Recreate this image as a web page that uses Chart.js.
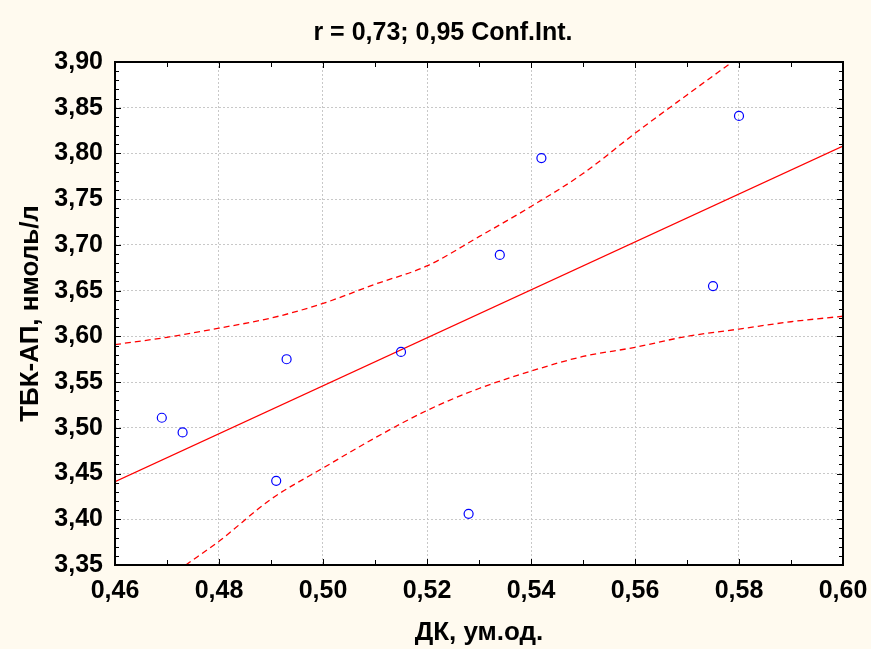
<!DOCTYPE html>
<html>
<head>
<meta charset="utf-8">
<script src="https://cdn.jsdelivr.net/npm/chart.js@4.4.0/dist/chart.umd.min.js"></script>
<style>
  html, body { margin: 0; padding: 0; background: #fffaef; }
  #wrap { width: 871px; height: 649px; }
</style>
</head>
<body>
<div id="wrap"><canvas id="c" width="871" height="649"></canvas></div>
<script>
/* scatter with regression line and 0.95 confidence band */

const pointsX = [0.469, 0.473, 0.491, 0.493, 0.515, 0.528, 0.534, 0.542, 0.575, 0.580];
const pointsY = [3.511, 3.495, 3.442, 3.575, 3.583, 3.406, 3.689, 3.795, 3.655, 3.841];

const fitX = [0.46, 0.60];
const fitY = [3.441, 3.808];

const upperX = [0.46, 0.47, 0.48, 0.49, 0.50, 0.51, 0.52, 0.53, 0.54, 0.55, 0.56, 0.57, 0.5787];
const upperY = [3.591, 3.599, 3.609, 3.620, 3.636, 3.657, 3.677, 3.709, 3.742, 3.778, 3.822, 3.864, 3.90];

const lowerX = [0.4736, 0.48, 0.49, 0.50, 0.51, 0.52, 0.53, 0.54, 0.55, 0.56, 0.57, 0.58, 0.59, 0.60];
const lowerY = [3.35, 3.376, 3.422, 3.456, 3.489, 3.519, 3.543, 3.562, 3.578, 3.588, 3.600, 3.608, 3.616, 3.622];

const xTicks = [0.46, 0.48, 0.50, 0.52, 0.54, 0.56, 0.58, 0.60];
const yTicks = [3.35, 3.40, 3.45, 3.50, 3.55, 3.60, 3.65, 3.70, 3.75, 3.80, 3.85, 3.90];

const titleText = 'r = 0,73; 0,95 Conf.Int.';
const xTitle    = 'ДК, ум.од.';
const yTitle    = 'ТБК-АП, нмоль/л';

const FONT = '"Liberation Sans", Arial, sans-serif';
const zip  = (xs, ys) => xs.map((x, i) => ({ x, y: ys[i] }));
const fmt  = v => Number(v).toFixed(2).replace('.', ',');

// white plot area, inward ticks, black frame, title
const framePlugin = {
    id: 'frame',
    beforeDraw(chart) {
        const { ctx, chartArea: a } = chart;
        ctx.save();
        ctx.fillStyle = '#ffffff';
        ctx.fillRect(a.left, a.top, a.right - a.left, a.bottom - a.top);
        ctx.restore();
    },
    afterDatasetsDraw(chart) {
        const { ctx, chartArea: a, scales } = chart;
        const xs = scales.x, ys = scales.y;
        ctx.save();
        ctx.strokeStyle = '#000';
        ctx.lineWidth = 1;
        ctx.beginPath();
        for (let i = 0; i <= 14; i++) {
            const v  = 0.46 + i * 0.01;
            const px = Math.round(xs.getPixelForValue(v)) + 0.5;
            const len = i % 2 === 0 ? 6 : 5;
            ctx.moveTo(px, a.bottom); ctx.lineTo(px, a.bottom - len);
            ctx.moveTo(px, a.top);    ctx.lineTo(px, a.top + len);
        }
        for (let i = 0; i <= 55; i++) {
            const v  = 3.35 + i * 0.01;
            const py = Math.round(ys.getPixelForValue(v)) + 0.5;
            const len = i % 5 === 0 ? 6 : 4;
            ctx.moveTo(a.left, py);  ctx.lineTo(a.left + len, py);
            ctx.moveTo(a.right, py); ctx.lineTo(a.right - len, py);
        }
        ctx.stroke();
        ctx.lineWidth = 2;
        ctx.strokeRect(a.left, a.top, a.right - a.left, a.bottom - a.top);
        ctx.restore();
    },
    afterDraw(chart) {
        const { ctx } = chart;
        ctx.save();
        ctx.fillStyle = '#000';
        ctx.font = 'bold 25px ' + FONT;
        ctx.textAlign = 'center';
        ctx.textBaseline = 'middle';
        ctx.fillText(titleText, 443, 33);
        ctx.restore();
    }
};

new Chart(document.getElementById('c'), {
    type: 'scatter',
    data: {
        datasets: [
            {
                label: 'points',
                data: zip(pointsX, pointsY),
                showLine: false,
                pointStyle: 'circle',
                pointRadius: 4.5,
                pointBorderWidth: 1.2,
                pointBorderColor: '#0000ff',
                pointBackgroundColor: 'rgba(0,0,0,0)'
            },
            {
                label: 'fit',
                data: zip(fitX, fitY),
                showLine: true,
                borderColor: '#ff0000',
                borderWidth: 1.3,
                pointRadius: 0
            },
            {
                label: 'upper',
                data: zip(upperX, upperY),
                showLine: true,
                borderColor: '#ff0000',
                borderWidth: 1.3,
                borderDash: [6, 4],
                cubicInterpolationMode: 'monotone',
                pointRadius: 0
            },
            {
                label: 'lower',
                data: zip(lowerX, lowerY),
                showLine: true,
                borderColor: '#ff0000',
                borderWidth: 1.3,
                borderDash: [6, 4],
                cubicInterpolationMode: 'monotone',
                pointRadius: 0
            }
        ]
    },
    options: {
        responsive: false,
        animation: false,
        layout: { padding: { top: 62, right: 28, left: 0, bottom: 0 } },
        plugins: {
            legend:  { display: false },
            tooltip: { enabled: false },
            title:   { display: false }
        },
        scales: {
            x: {
                type: 'linear',
                min: 0.46,
                max: 0.60,
                afterBuildTicks: s => { s.ticks = xTicks.map(v => ({ value: v })); },
                afterFit: s => { s.height = 84; s.paddingLeft = 0; s.paddingRight = 0; },
                ticks: {
                    color: '#000',
                    padding: 11,
                    font: { family: FONT, size: 25, weight: 'bold' },
                    callback: v => fmt(v),
                    maxRotation: 0
                },
                grid:   { color: '#c8c8c8', lineWidth: 1, drawTicks: false },
                border: { display: false, dash: [2, 2] },
                title: {
                    display: true,
                    text: xTitle,
                    color: '#000',
                    font: { family: FONT, size: 26, weight: 'bold' },
                    padding: { top: 0, bottom: 1 }
                }
            },
            y: {
                type: 'linear',
                min: 3.35,
                max: 3.90,
                afterBuildTicks: s => { s.ticks = yTicks.map(v => ({ value: v })); },
                afterFit: s => { s.width = 115; s.paddingTop = 0; s.paddingBottom = 0; },
                ticks: {
                    color: '#000',
                    padding: 12,
                    font: { family: FONT, size: 25, weight: 'bold' },
                    callback: v => fmt(v)
                },
                grid:   { color: '#c8c8c8', lineWidth: 1, drawTicks: false },
                border: { display: false, dash: [2, 2] },
                title: {
                    display: true,
                    text: yTitle,
                    color: '#000',
                    font: { family: FONT, size: 26, weight: 'bold' },
                    padding: { top: 15, bottom: 0 }
                }
            }
        }
    },
    plugins: [framePlugin]
});
</script>
</body>
</html>
